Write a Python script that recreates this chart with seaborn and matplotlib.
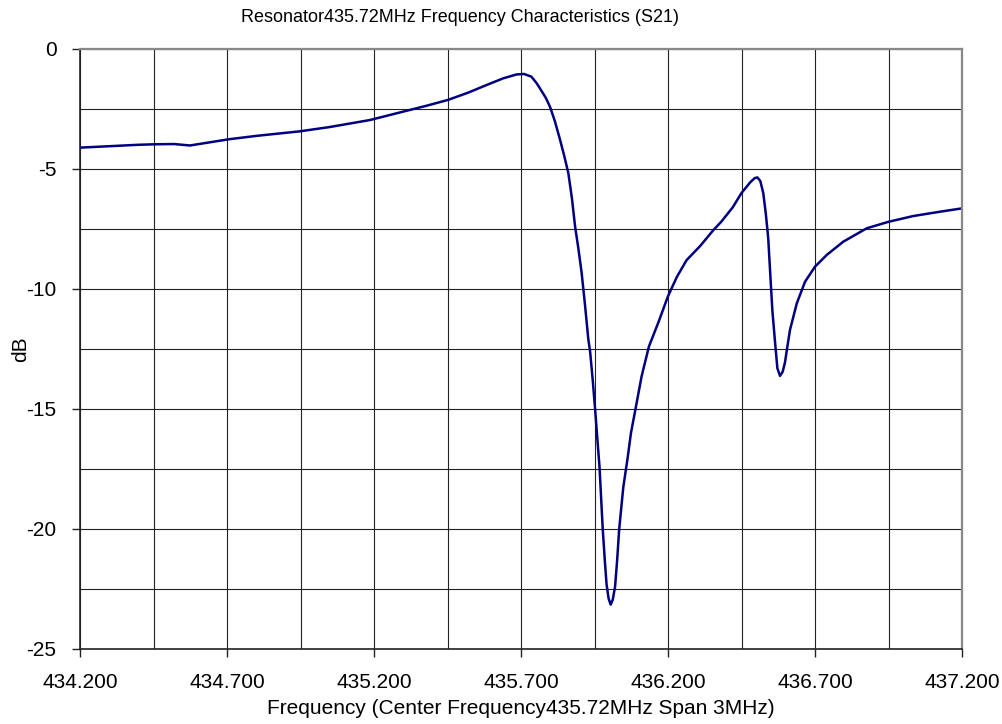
import matplotlib
matplotlib.use("Agg")
import matplotlib.pyplot as plt
import seaborn as sns
import pandas as pd
import numpy as np
from matplotlib.ticker import FixedLocator

freq_mhz = [434.200, 434.300, 434.400, 434.455, 434.520, 434.574, 434.620, 434.707,
            434.800, 434.948, 435.050, 435.186, 435.299, 435.380, 435.452, 435.520,
            435.583, 435.640, 435.685, 435.710, 435.735, 435.753, 435.770, 435.785,
            435.799, 435.815, 435.833, 435.847, 435.861, 435.873, 435.884, 435.895,
            435.906, 435.918, 435.929, 435.935, 435.944, 435.952, 435.960, 435.967,
            435.978, 435.985, 435.991, 435.998, 436.005, 436.012, 436.020, 436.027,
            436.034, 436.048, 436.062, 436.074, 436.091, 436.110, 436.135, 436.167,
            436.200, 436.230, 436.263, 436.310, 436.354, 436.381, 436.420, 436.450,
            436.480, 436.495, 436.504, 436.514, 436.524, 436.533, 436.541, 436.547,
            436.555, 436.564, 436.572, 436.581, 436.590, 436.598, 436.606, 436.615,
            436.638, 436.666, 436.700, 436.740, 436.796, 436.876, 436.950, 437.034,
            437.125, 437.200]
s21_db = [-4.11, -4.05, -3.99, -3.97, -3.96, -4.02, -3.93, -3.76,
          -3.62, -3.43, -3.25, -2.96, -2.61, -2.36, -2.12, -1.82,
          -1.50, -1.22, -1.06, -1.04, -1.15, -1.42, -1.75, -2.05,
          -2.42, -3.00, -3.79, -4.45, -5.17, -6.20, -7.40, -8.30,
          -9.30, -10.70, -12.10, -12.60, -13.80, -15.00, -16.30, -17.40,
          -20.00, -21.30, -22.30, -22.90, -23.15, -22.95, -22.40, -21.30,
          -20.00, -18.25, -17.10, -16.00, -14.90, -13.65, -12.40, -11.40,
          -10.30, -9.50, -8.80, -8.20, -7.55, -7.20, -6.60, -6.00,
          -5.55, -5.38, -5.35, -5.50, -6.00, -6.90, -7.90, -9.20,
          -10.90, -12.20, -13.30, -13.62, -13.45, -13.05, -12.40, -11.70,
          -10.60, -9.70, -9.07, -8.58, -8.03, -7.47, -7.20, -6.96,
          -6.78, -6.64]

x_ticks = [434.2, 434.7, 435.2, 435.7, 436.2, 436.7, 437.2]
x_tick_labels = ["434.200", "434.700", "435.200", "435.700", "436.200", "436.700", "437.200"]
x_minor = [434.45, 434.95, 435.45, 435.95, 436.45, 436.95]
y_ticks = [-25, -20, -15, -10, -5, 0]
y_tick_labels = ["-25", "-20", "-15", "-10", "-5", "0"]
y_minor = [-22.5, -17.5, -12.5, -7.5, -2.5]

title = "Resonator435.72MHz Frequency Characteristics (S21)"
xlabel = "Frequency (Center Frequency435.72MHz Span 3MHz)"
ylabel = "dB"

sns.set_style("white")
plt.rcParams['font.family'] = ['Liberation Sans', 'DejaVu Sans']

df = pd.DataFrame({"freq": freq_mhz, "db": s21_db})

fig = plt.figure(figsize=(10.02, 7.24), dpi=100)
ax = fig.add_axes([80/1002, 1-649/724, (962-80)/1002, (649-49)/724])

sns.lineplot(data=df, x="freq", y="db", ax=ax, color="#000080", linewidth=1.8,
             sort=False, estimator=None)

ax.set_xlim(434.2, 437.2)
ax.set_ylim(-25, 0)
ax.xaxis.set_major_locator(FixedLocator(x_ticks))
ax.xaxis.set_minor_locator(FixedLocator(x_minor))
ax.yaxis.set_major_locator(FixedLocator(y_ticks))
ax.yaxis.set_minor_locator(FixedLocator(y_minor))
ax.set_xticklabels(x_tick_labels)
ax.set_yticklabels(y_tick_labels)

ax.grid(True, which='both', color='#222222', linewidth=0.8)
ax.set_axisbelow(True)

for side in ['left', 'bottom']:
    ax.spines[side].set_color('#222222')
    ax.spines[side].set_linewidth(1.2)
for side in ['top', 'right']:
    ax.spines[side].set_color('#888888')
    ax.spines[side].set_linewidth(1.6)

ax.tick_params(axis='both', which='major', direction='out', length=6, width=1,
               color='#222222', labelsize=15, labelcolor='black',
               bottom=True, left=True)
ax.tick_params(axis='x', which='major', pad=11)
ax.tick_params(axis='y', which='major', pad=11)
ax.tick_params(axis='both', which='minor', length=0)

fig.text(460/1002, 1-17/724, title, fontsize=13, color='black', ha='center', va='center')
ax.set_xlabel(xlabel, fontsize=15, color='black', labelpad=5)
ax.set_ylabel(ylabel, fontsize=15, color='black')
ax.yaxis.set_label_coords((30-80)/882, 0.5)

fig.savefig("out.png", dpi=100)
